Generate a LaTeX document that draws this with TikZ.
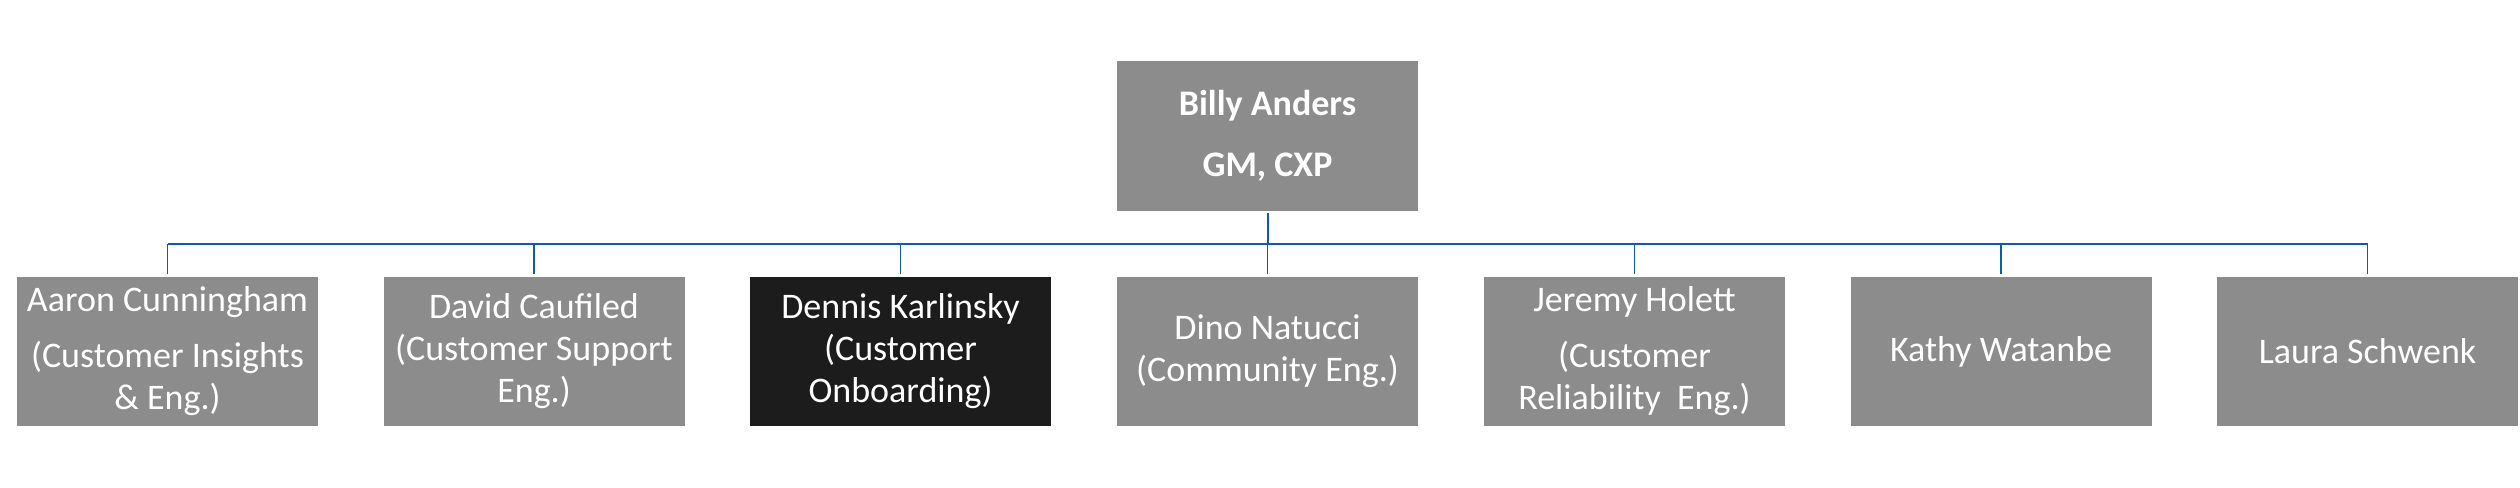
\documentclass[tikz,border=0pt]{standalone}
\usepackage{fontspec}
\setmainfont{Carlito}
\definecolor{boxgray}{RGB}{140,140,140}
\definecolor{boxdark}{RGB}{28,28,28}
\definecolor{linkblue}{RGB}{14,92,168}
\tikzset{
  person/.style={rectangle, fill=boxgray, text=white, inner sep=0pt,
    minimum width=150.5pt, minimum height=74.5pt, align=center,
    font=\fontsize{18}{21}\selectfont},
  chief/.style={person, minimum height=75pt, font=\fontsize{18}{21}\selectfont\bfseries},
  highlight/.style={fill=boxdark},
  busline/.style={draw=linkblue, line width=1pt},
  drop/.style={draw=linkblue, line width=0.75pt, shorten >=1.5pt}
}
\begin{document}
\begin{tikzpicture}[x=0.5pt, y=-0.5pt]
\useasboundingbox (0,0) rectangle (2520,487);
\node[chief] (boss) at (1267.5,136) {Billy Anders\\[9.5pt]GM, CXP};
\node[person] (c1) at (167.5,351.5) {Aaron Cunningham\\[7pt](Customer Insights\\\& Eng.)};
\node[person] (c2) at (534,351.5) {David Caufiled\\(Customer Support\\Eng.)};
\node[person, highlight] (c3) at (900.5,351.5) {Dennis Karlinsky\\(Customer\\Onboarding)};
\node[person] (c4) at (1267.5,351.5) {Dino Natucci\\(Community Eng.)};
\node[person] (c5) at (1634.5,351.5) {Jeremy Holett\\[7pt](Customer\\Reliability~ Eng.)};
\node[person] (c6) at (2001,351.5) {Kathy Watanbe};
\node[person] (c7) at (2367.5,351.5) {Laura Schwenk};
\coordinate (j) at (1267.5,244);
\draw[busline, shorten <=1pt] (boss.south) -- (j);
\draw[busline] (j -| c1.north) -- (j -| c7.north);
\foreach \c in {c1,c2,c3,c4,c5,c6,c7}{
  \draw[drop] (j -| \c.north) -- (\c.north);
}
\end{tikzpicture}
\end{document}
